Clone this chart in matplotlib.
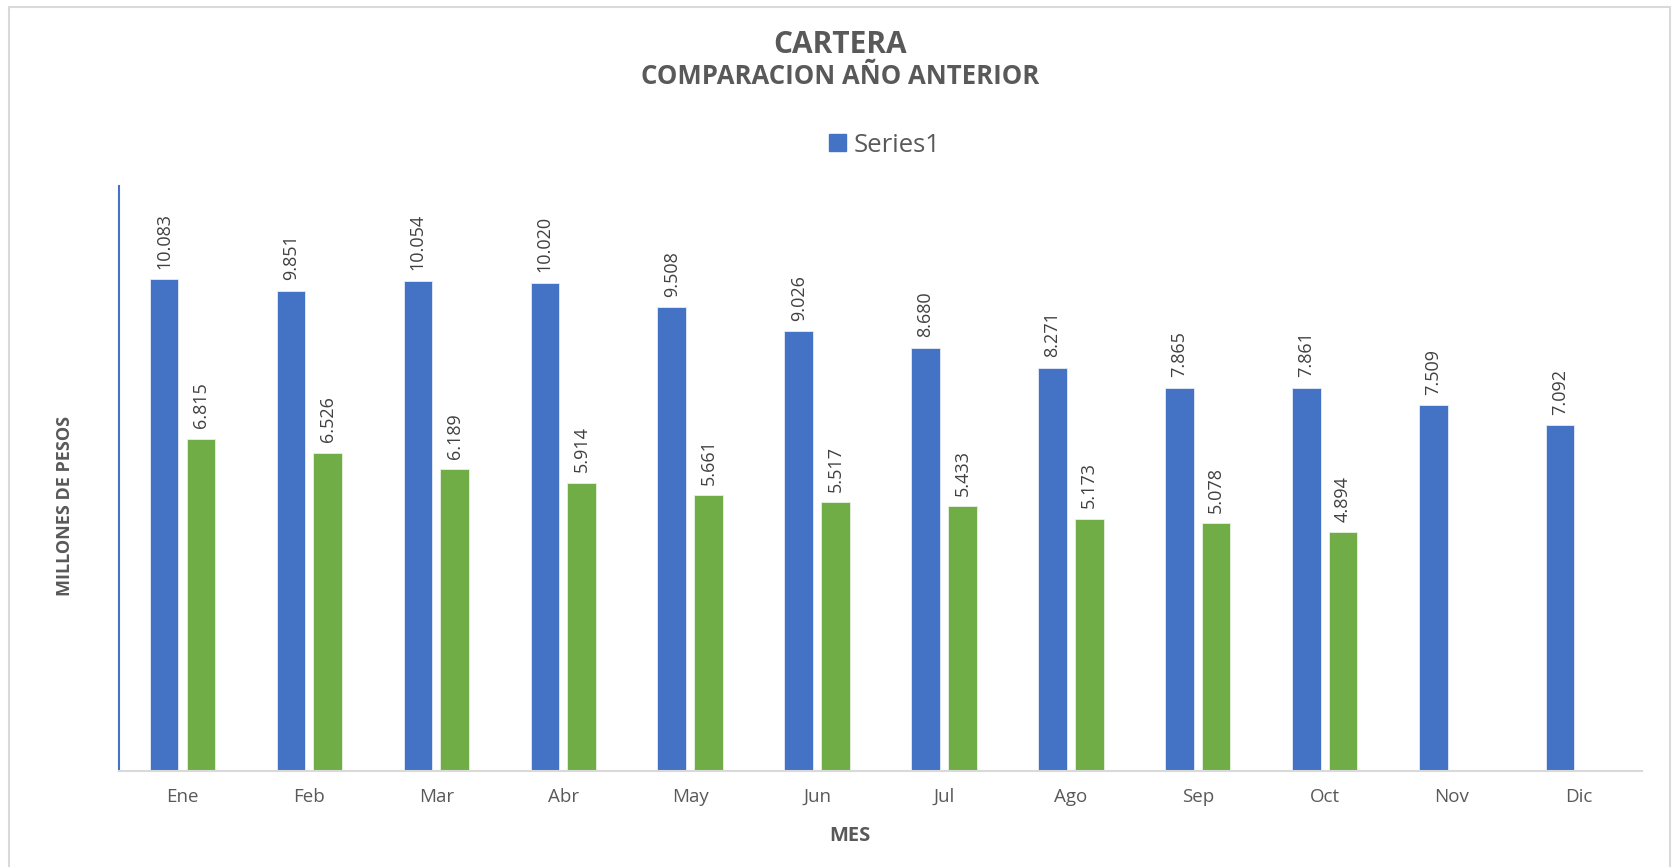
import numpy as np
import matplotlib
matplotlib.use("Agg")
import matplotlib.pyplot as plt
from matplotlib.patches import Patch, Rectangle

months = ["Ene", "Feb", "Mar", "Abr", "May", "Jun", "Jul", "Ago", "Sep", "Oct", "Nov", "Dic"]
current = [10.083, 9.851, 10.054, 10.020, 9.508, 9.026, 8.680, 8.271, 7.865, 7.861, 7.509, 7.092]
previous = [6.815, 6.526, 6.189, 5.914, 5.661, 5.517, 5.433, 5.173, 5.078, 4.894, None, None]

BLUE = "#4472C4"
GREEN = "#70AD47"
GRAY = "#595959"

plt.rcParams['font.family'] = ['Open Sans', 'DejaVu Sans']

W, H = 1672, 867
fig = plt.figure(figsize=(W / 100, H / 100), dpi=100)
ax = fig.add_axes([119 / W, 1 - 771 / H, (1642 - 119) / W, (771 - 186) / H])

x = np.arange(len(months))
bw = 0.225
off = 0.145
cur = np.array(current, dtype=float)
prev = np.array([np.nan if v is None else v for v in previous], dtype=float)

ax.bar(x - off, cur, bw, color=BLUE, edgecolor="#E6ECF7", linewidth=0.6, zorder=2)
ax.bar(x + off, np.nan_to_num(prev), bw, color=GREEN, edgecolor="#E8F2E1", linewidth=0.6, zorder=2)

for xi, v in zip(x, cur):
    ax.annotate(f"{v:.3f}", (xi - off, v), xytext=(0, 7.5), textcoords="offset points",
                rotation=90, ha="center", va="bottom", fontsize=13, color="#404040")
for xi, v in zip(x, prev):
    if np.isnan(v):
        continue
    ax.annotate(f"{v:.3f}", (xi + off, v), xytext=(0, 7.5), textcoords="offset points",
                rotation=90, ha="center", va="bottom", fontsize=13, color="#404040")

ax.set_xlim(-0.5, len(months) - 0.5)
ax.set_ylim(0, 12)
ax.set_xticks(x)
ax.set_xticklabels(months, fontsize=13.5, color=GRAY)
ax.tick_params(axis="x", length=0, pad=12)
ax.set_yticks([])
for s in ["top", "right"]:
    ax.spines[s].set_visible(False)
ax.spines["left"].set_color(BLUE)
ax.spines["left"].set_linewidth(1.5)
ax.spines["bottom"].set_color("#D9D9D9")
ax.spines["bottom"].set_linewidth(1.5)

ax.set_xlabel("MES", fontsize=14.5, fontweight="bold", color=GRAY, va="center")
ax.xaxis.set_label_coords((850 - 119) / 1523, (771 - 836) / 585)
ax.set_ylabel("MILLONES DE PESOS", fontsize=13, fontweight="bold", color=GRAY, va="center")
ax.yaxis.set_label_coords((65 - 119) / 1523, (771 - 506) / 585)

fig.text(840 / W, 1 - 45 / H, "CARTERA", ha="center", va="center",
         fontsize=21.5, fontweight="bold", color=GRAY)
fig.text(840 / W, 1 - 77 / H, "COMPARACION AÑO ANTERIOR", ha="center", va="center",
         fontsize=18.5, fontweight="bold", color=GRAY)

leg = ax.legend(handles=[Patch(facecolor=BLUE, edgecolor=BLUE, label="Series1")],
                loc="center", bbox_to_anchor=((885 - 119) / 1523, 1 + 41 / 585), frameon=False,
                fontsize=18.5, handlelength=0.65, handleheight=0.65, handletextpad=0.3)
for t in leg.get_texts():
    t.set_color(GRAY)

fig.patches.append(Rectangle((9 / W, -0.02), (1670 - 9) / W, 1 - 7 / H + 0.02,
                             transform=fig.transFigure, fill=False,
                             edgecolor="#D9D9D9", linewidth=1.5))

fig.savefig("out.png", dpi=100, facecolor="white")
